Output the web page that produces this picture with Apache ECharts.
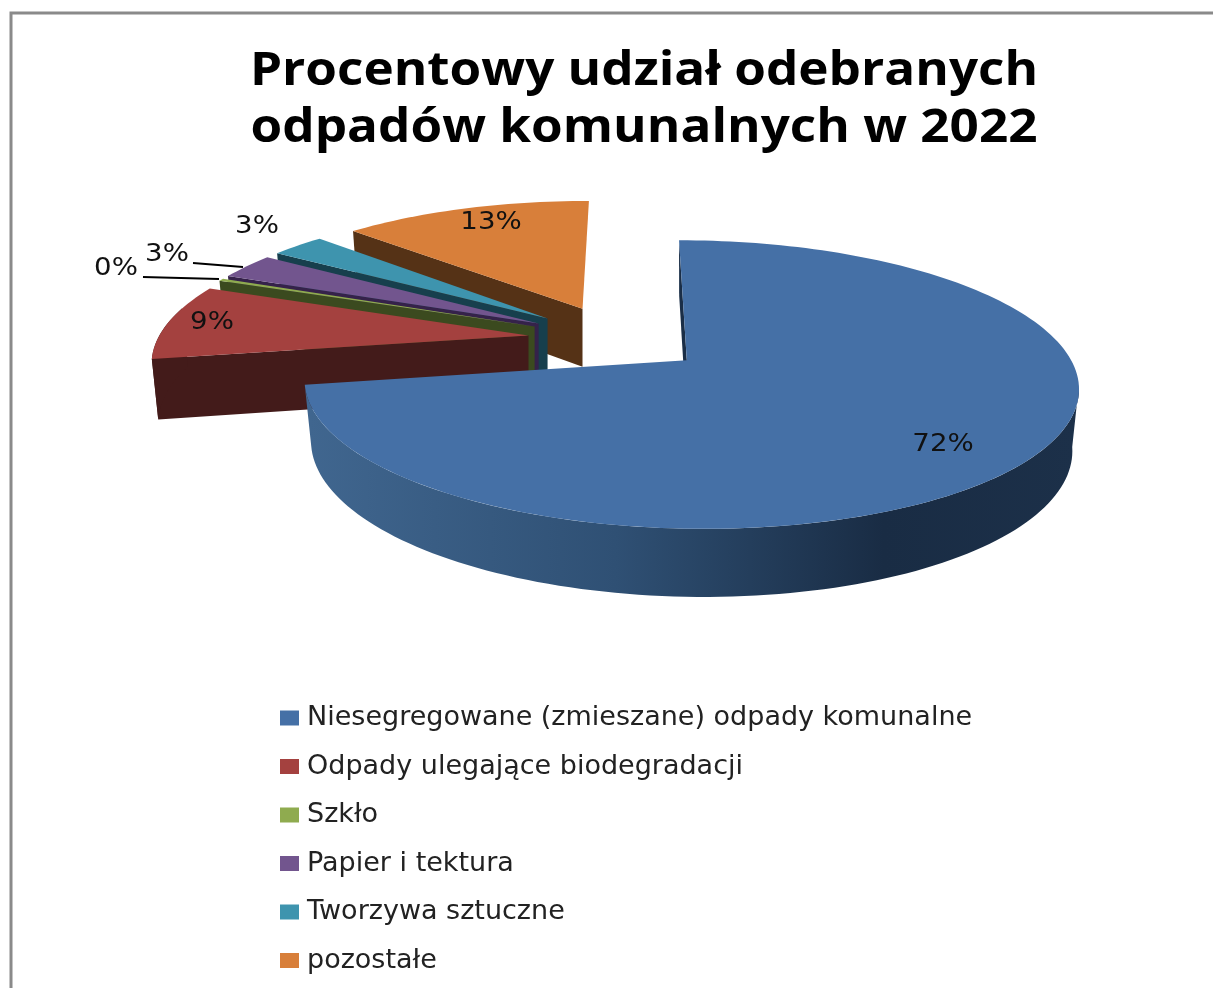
<!DOCTYPE html>
<html>
<head>
<meta charset="utf-8">
<style>html,body{margin:0;padding:0;background:#fff}#main{width:1213px;height:988px}</style>
<script src="https://cdn.jsdelivr.net/npm/echarts@6/dist/echarts.min.js"></script>
</head>
<body>
<div id="main"></div>
<script>
// data
const titleText = 'Procentowy udział odebranych\nodpadów komunalnych w 2022';
const categories = ['Niesegregowane (zmieszane) odpady komunalne', 'Odpady ulegające biodegradacji', 'Szkło', 'Papier i tektura', 'Tworzywa sztuczne', 'pozostałe'];
const shares = [72.3, 8.7, 0.3, 3.0, 2.8, 12.9];
const topColors = ['#4570a6', '#a4413f', '#8fab4f', '#72558e', '#3e94ae', '#d87f3a'];
const wallColors = ['#1a2e47', '#431b1a', '#3b4a1f', '#35224a', '#173f4d', '#553216'];
// where the percent labels sit
const labelPlaces = [[943, 445], [212, 323], [116, 269], [167, 255], [257, 227], [491, 223]];

// fake 3D projection of the exploded pie (Excel look)
const ORIGIN = [618, 339], EXPLODE = [90, 33], EXPLODE_DEPTH = 0.236;
const RADIUS_X = 372, RADIUS_Y = 136.7, PERSP = 0.164, VANISH_X = 615, RIM_DX = 1;
const total = shares.reduce((a, b) => a + b, 0);
const rad = (d) => d * Math.PI / 180;

let acc = 0;
const slices = shares.map((v) => {
    const start = acc / total * 360;
    acc += v;
    const end = acc / total * 360;
    const mid = rad((start + end) / 2);
    return {
        start, end,
        apex: [ORIGIN[0] + EXPLODE[0] * Math.sin(mid), ORIGIN[1] - EXPLODE[1] * Math.cos(mid)],
        apexDepth: EXPLODE_DEPTH * Math.cos(mid)
    };
});

function rimPoint(s, deg) {
    const xw = Math.sin(rad(deg)), yw = Math.cos(rad(deg));
    const k = 1 / (1 + PERSP * (yw + s.apexDepth));
    // slices pushed to the back get a bit flatter
    const flat = 1 - 0.25 * Math.max(0, s.apexDepth);
    return [
        s.apex[0] + RIM_DX + RADIUS_X * xw * k + (s.apex[0] - VANISH_X) * (k - 1),
        s.apex[1] - RADIUS_Y * yw * k * flat
    ];
}
// thickness grows slightly towards the viewer
function lower(s, p) {
    return [s.apex[0] + (p[0] - s.apex[0]) * 0.983, p[1] + 58 + (p[1] - 308) * 0.0457];
}
function arc(s, a, b) {
    const pts = [];
    const n = Math.max(2, Math.ceil((b - a) / 1.5));
    for (let i = 0; i <= n; i++) pts.push(rimPoint(s, a + (b - a) * i / n));
    return pts;
}
const poly = (points, fill) => ({ type: 'polygon', shape: { points }, style: { fill }, silent: true });

function makeRender(i) {
    return function () {
        const s = slices[i];
        const children = [];
        // cut wall on the start edge
        const r0 = rimPoint(s, s.start);
        children.push(poly([r0, s.apex, lower(s, s.apex), lower(s, r0)], wallColors[i]));
        // outer wall, from the right silhouette round to the left
        const a = Math.max(s.start, 100), b = Math.min(s.end, 282);
        if (b > a) {
            const rim = arc(s, a, b);
            const fill = i === 0
                ? new echarts.graphic.LinearGradient(310, 0, 1075, 0, [
                    { offset: 0, color: '#40668f' },
                    { offset: 0.4, color: '#2f5074' },
                    { offset: 0.75, color: '#192c44' },
                    { offset: 1, color: '#1c3049' }
                ], true)
                : wallColors[i];
            children.push(poly(rim.concat(rim.map((p) => lower(s, p)).reverse()), fill));
        }
        // top face
        children.push(poly([s.apex].concat(arc(s, s.start, s.end)), topColors[i]));
        children.push({
            type: 'text',
            silent: true,
            x: labelPlaces[i][0], y: labelPlaces[i][1],
            scaleX: 1.15,
            style: {
                text: Math.round(shares[i] / total * 100) + '%',
                align: 'center', verticalAlign: 'middle',
                font: '24px "DejaVu Sans"', fill: '#111'
            }
        });
        return { type: 'group', children };
    };
}

// back slices first so the front ones paint over them
const drawOrder = [5, 4, 3, 2, 1, 0];

const option = {
    animation: false,
    backgroundColor: '#ffffff',
    legend: {
        orient: 'vertical', left: 275, top: 699,
        data: categories, icon: 'rect', itemWidth: 19, itemHeight: 15, itemGap: 20.5,
        selectedMode: false,
        textStyle: { fontFamily: 'DejaVu Sans', fontSize: 27, lineHeight: 28, color: '#222', padding: [0, 0, 0, 3] }
    },
    graphic: [
        // title is stretched in the original, so a plain text element with scaleX
        {
            type: 'text', silent: true, x: 644, y: 43, scaleX: 1.09,
            style: { text: titleText, align: 'center', font: 'bold 47px "Open Sans"', lineHeight: 57, fill: '#000' }
        },
        { type: 'rect', silent: true, shape: { x: 11, y: 13, width: 1400, height: 1200 }, style: { fill: 'none', stroke: '#8a8a8a', lineWidth: 3 } },
        { type: 'polyline', silent: true, z: 10, shape: { points: [[193, 263], [243, 267]] }, style: { stroke: '#000', lineWidth: 2, fill: 'none' } },
        { type: 'polyline', silent: true, z: 10, shape: { points: [[143, 277], [219, 279]] }, style: { stroke: '#000', lineWidth: 2, fill: 'none' } }
    ],
    series: drawOrder.map((i) => ({
        type: 'custom',
        name: categories[i],
        coordinateSystem: 'none',
        itemStyle: { color: topColors[i] },
        data: [[shares[i]]],
        renderItem: makeRender(i)
    }))
};

const chart = echarts.init(document.getElementById('main'));
chart.setOption(option);
</script>
</body>
</html>
